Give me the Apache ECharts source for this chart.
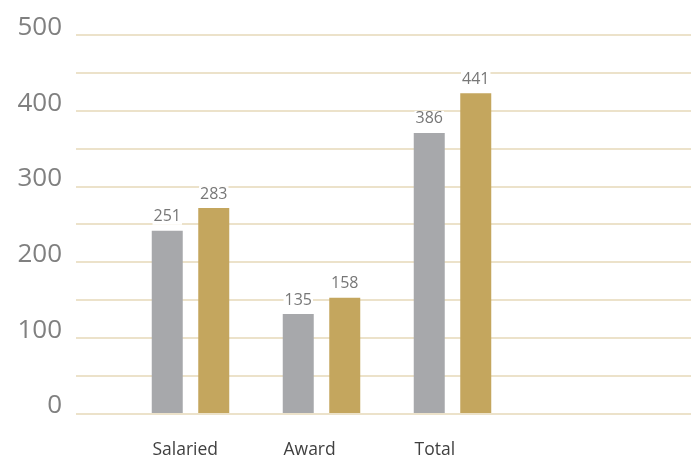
<!DOCTYPE html>
<html>
<head>
<meta charset="utf-8">
<script src="https://cdn.jsdelivr.net/npm/echarts@6/dist/echarts.min.js"></script>
<style>html,body{margin:0;padding:0;background:#fff}#c{width:691px;height:459px}</style>
</head>
<body>
<div id="c"></div>
<script>
var categories = ['Salaried', 'Award', 'Total'];
var seriesA = [241, 131, 370.5];
var seriesB = [271, 152.5, 423];
// numbers printed above the bars
var labelsA = ['251', '135', '386'];
var labelsB = ['283', '158', '441'];
var yTicks = [0, 100, 200, 300, 400, 500];

var chart = echarts.init(document.getElementById('c'), null, {renderer: 'canvas'});
var font = '"Open Sans", "Noto Sans", sans-serif';
function lbl(arr) {
  return {
    show: true, position: 'top', distance: 6,
    fontFamily: font, fontSize: 16, color: '#777777',
    backgroundColor: '#ffffff', padding: [0, 1, 0, 1],
    formatter: function (p) { return arr[p.dataIndex]; }
  };
}
chart.setOption({
  animation: false,
  grid: [
    {left: 76, right: 0, top: 35, bottom: 45.7},
    {left: 125, width: 393, top: 35, bottom: 45.7}
  ],
  xAxis: [
    {type: 'category', gridIndex: 0, data: categories, show: false},
    {
      type: 'category', gridIndex: 1, data: categories,
      axisLine: {show: false}, axisTick: {show: false},
      axisLabel: {
        margin: 28, fontFamily: font, fontSize: 17.5, color: '#404040',
        formatter: function (v) { return '{a|' + v + '}'; },
        rich: {a: {width: 76, align: 'left', fontFamily: font, fontSize: 17.5, color: '#404040'}}
      }
    }
  ],
  yAxis: [
    {
      type: 'value', gridIndex: 0, min: yTicks[0], max: yTicks[yTicks.length - 1], interval: 50,
      axisLine: {show: false}, axisTick: {show: false},
      splitLine: {lineStyle: {color: '#e6d9b9', width: 1.5}},
      axisLabel: {
        margin: 14, fontFamily: font, fontSize: 26, color: '#808080',
        verticalAlign: 'bottom', lineHeight: 15,
        formatter: function (v) { return yTicks.indexOf(v) >= 0 ? String(v) : ''; }
      }
    },
    {
      type: 'value', gridIndex: 1, min: yTicks[0], max: yTicks[yTicks.length - 1], interval: 50,
      show: false, splitLine: {show: false}
    }
  ],
  series: [
    {
      type: 'bar', name: 'Series 1', xAxisIndex: 1, yAxisIndex: 1, data: seriesA,
      barWidth: 31, barGap: '50%', itemStyle: {color: '#a7a8ab'}, label: lbl(labelsA)
    },
    {
      type: 'bar', name: 'Series 2', xAxisIndex: 1, yAxisIndex: 1, data: seriesB,
      barWidth: 31, barGap: '50%', itemStyle: {color: '#c4a65e'}, label: lbl(labelsB)
    }
  ]
});
</script>
</body>
</html>
